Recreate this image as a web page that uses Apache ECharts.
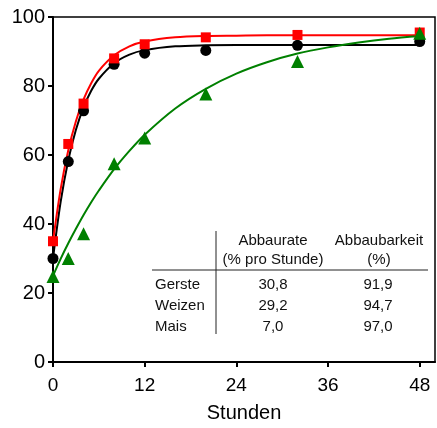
<!DOCTYPE html>
<html>
<head>
<meta charset="utf-8">
<script src="https://cdn.jsdelivr.net/npm/echarts@6/dist/echarts.min.js"></script>
<style>
html,body{margin:0;padding:0;background:#fff;}
#chart{width:437px;height:428px;}
</style>
</head>
<body>
<div id="chart"></div>
<script>
// Measured points (hours, % degraded)
const hours = [0, 2, 4, 8, 12, 20, 32, 48];
const gerstePts = [30.0, 58.1, 72.8, 86.3, 89.5, 90.3, 91.8, 92.9];
const weizenPts = [35.0, 63.2, 74.9, 88.0, 92.1, 94.1, 94.8, 95.5];
const maisPts   = [24.8, 30.0, 37.2, 57.5, 64.9, 77.7, 87.1, 95.3];

// Fitted curves
const curveHours = [0, 1, 2, 3, 4, 5, 6, 8, 10, 12, 16, 20, 24, 28, 32, 36, 40, 44, 48];
const gersteCurve = [30.0, 46.4, 58.5, 67.3, 73.8, 78.6, 82.1, 86.6, 89.1, 90.4, 91.5, 91.8, 91.9, 91.9, 91.9, 91.9, 91.9, 91.9, 91.9];
const weizenCurve = [35.0, 50.1, 61.4, 69.8, 76.1, 80.8, 84.4, 88.9, 91.5, 92.9, 94.1, 94.5, 94.6, 94.7, 94.7, 94.7, 94.7, 94.7, 94.7];
const maisCurve   = [25.0, 29.9, 34.4, 38.6, 42.6, 46.3, 49.7, 55.9, 61.2, 65.9, 73.5, 79.2, 83.6, 86.9, 89.4, 91.2, 92.6, 93.7, 94.5];

const xTicks = [0, 12, 24, 36, 48];
const yTicks = [0, 20, 40, 60, 80, 100];

// Inset table
const tableHeader1 = ["Abbaurate", "(% pro Stunde)"];
const tableHeader2 = ["Abbaubarkeit", "(%)"];
const tableNames = ["Gerste", "Weizen", "Mais"];
const tableRates = ["30,8", "29,2", "7,0"];
const tableDegr  = ["91,9", "94,7", "97,0"];

const zip = (xs, ys) => xs.map((x, i) => [x, ys[i]]);

const chart = echarts.init(document.getElementById('chart'), null, {renderer: 'canvas'});

const FONT = 'Liberation Sans, Arial, sans-serif';
const tFont = {fontFamily: FONT, fontSize: 15, fill: '#111'};

const graphics = [];
tableHeader1.forEach((t, i) => graphics.push({type: 'text', x: 273, y: 241 + i * 19,
  style: Object.assign({text: t, textAlign: 'center', textVerticalAlign: 'middle'}, tFont)}));
tableHeader2.forEach((t, i) => graphics.push({type: 'text', x: 379, y: 241 + i * 19,
  style: Object.assign({text: t, textAlign: 'center', textVerticalAlign: 'middle'}, tFont)}));
tableNames.forEach((t, i) => {
  const y = 285 + i * 21;
  graphics.push({type: 'text', x: 155, y: y, style: Object.assign({text: t, textAlign: 'left', textVerticalAlign: 'middle'}, tFont)});
  graphics.push({type: 'text', x: 273, y: y, style: Object.assign({text: tableRates[i], textAlign: 'center', textVerticalAlign: 'middle'}, tFont)});
  graphics.push({type: 'text', x: 378, y: y, style: Object.assign({text: tableDegr[i], textAlign: 'center', textVerticalAlign: 'middle'}, tFont)});
});
graphics.push({type: 'line', shape: {x1: 216, y1: 231, x2: 216, y2: 334}, style: {stroke: '#222', lineWidth: 1}});
graphics.push({type: 'line', shape: {x1: 152, y1: 270, x2: 428, y2: 270}, style: {stroke: '#222', lineWidth: 1}});

chart.setOption({
  animation: false,
  backgroundColor: '#fff',
  grid: {left: 53, right: 2, top: 17, bottom: 65, show: true, borderColor: '#000', borderWidth: 1.5, containLabel: false},
  xAxis: {
    type: 'value', min: 0, max: 50, interval: 12,
    name: 'Stunden', nameLocation: 'middle', nameGap: 41,
    nameTextStyle: {fontFamily: FONT, fontSize: 20, color: '#000'},
    axisLine: {show: true, onZero: false, lineStyle: {color: '#000', width: 2}},
    axisTick: {show: true, inside: false, length: 5, lineStyle: {color: '#000', width: 2}, customValues: xTicks},
    axisLabel: {fontFamily: FONT, fontSize: 19, color: '#000', margin: 14, customValues: xTicks},
    splitLine: {show: false}
  },
  yAxis: {
    type: 'value', min: 0, max: 100, interval: 20,
    axisLine: {show: true, onZero: false, lineStyle: {color: '#000', width: 2}},
    axisTick: {show: true, inside: false, length: 5, lineStyle: {color: '#000', width: 2}, customValues: yTicks},
    axisLabel: {fontFamily: FONT, fontSize: 20, color: '#000', margin: 8, customValues: yTicks},
    splitLine: {show: false}
  },
  series: [
    {type: 'line', data: zip(curveHours, gersteCurve), showSymbol: false, smooth: 0.3, lineStyle: {color: '#000', width: 2}, z: 2},
    {type: 'line', data: zip(curveHours, weizenCurve), showSymbol: false, smooth: 0.3, lineStyle: {color: '#ff0000', width: 2}, z: 3},
    {type: 'line', data: zip(curveHours, maisCurve), showSymbol: false, smooth: 0.3, lineStyle: {color: '#008000', width: 2}, z: 4},
    {type: 'scatter', data: zip(hours, gerstePts), symbol: 'circle', symbolSize: 11, itemStyle: {color: '#000', opacity: 1}, z: 5},
    {type: 'scatter', data: zip(hours, weizenPts), symbol: 'rect', symbolSize: 10, itemStyle: {color: '#ff0000', opacity: 1}, z: 6},
    {type: 'scatter', data: zip(hours, maisPts), symbol: 'triangle', symbolSize: 13, itemStyle: {color: '#008000', opacity: 1}, z: 7}
  ],
  graphic: graphics
});
</script>
</body>
</html>
